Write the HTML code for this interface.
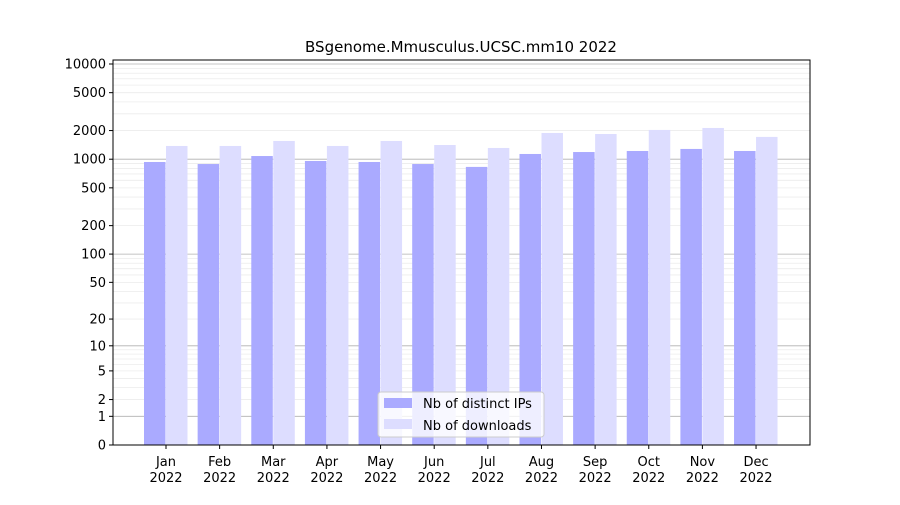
<!DOCTYPE html>
<html><head><meta charset="utf-8"><style>
body{margin:0;background:#fff;}
svg text{font-family:"DejaVu Sans","Liberation Sans",sans-serif;}
</style></head><body>
<svg id="chart" width="900" height="500" xmlns="http://www.w3.org/2000/svg">
<rect width="900" height="500" fill="#fff"/>
<g id="grid"></g><g id="bars"></g><g id="axes"></g>
<text x="461" y="52" text-anchor="middle" font-size="15">BSgenome.Mmusculus.UCSC.mm10 2022</text>
<g>
<rect x="378" y="392" width="166" height="45" rx="3" fill="#fff" fill-opacity="0.8" stroke="#ccc"/>
<rect x="384" y="398" width="28" height="10" fill="#aaaaff"/>
<text x="423" y="408" font-size="13">Nb of distinct IPs</text>
<rect x="384" y="419" width="28" height="10" fill="#ddddff"/>
<text x="423" y="430" font-size="13">Nb of downloads</text>
</g>
</svg>
<script>
const months=["Jan","Feb","Mar","Apr","May","Jun","Jul","Aug","Sep","Oct","Nov","Dec"];
const ips=[935,890,1080,958,935,890,830,1135,1190,1220,1282,1220];
const downloads=[1377,1377,1555,1377,1555,1410,1312,1887,1840,2030,2130,1715];
const yTicks=[0,1,2,5,10,20,50,100,200,500,1000,2000,5000,10000];
const NS="http://www.w3.org/2000/svg";
const L=113,R=810,T=60,B=445;
function y(v){return B-95.25*Math.log10(1+v);}
function xc(i){return 166+i*53.64;}
function mk(tag,attrs,parent,txt){const e=document.createElementNS(NS,tag);for(const k in attrs)e.setAttribute(k,attrs[k]);if(txt!==undefined)e.textContent=txt;document.getElementById(parent).appendChild(e);return e;}
// grid
for(let d=1;d<=10000;d*=10){for(let m=1;m<10;m++){const v=d*m;if(v>11000)break;const yy=y(v);
const g=mk('line',{x1:L,x2:R,y1:yy,y2:yy,stroke:m===1?'#b0b0b0':'#ececec','stroke-width':m===1?0.8:0.8},'grid');

}}
// bars
months.forEach((m,i)=>{
const b1=mk('rect',{x:xc(i)-22,y:y(ips[i]),width:21.5,height:B-y(ips[i]),fill:'#aaaaff'},'bars');


const b2=mk('rect',{x:xc(i),y:y(downloads[i]),width:21.5,height:B-y(downloads[i]),fill:'#ddddff'},'bars');


mk('line',{x1:xc(i),x2:xc(i),y1:B,y2:B+4,stroke:'#000'},'axes');
const t=mk('text',{x:xc(i),y:B+21,'text-anchor':'middle','font-size':13},'axes');


const s1=document.createElementNS(NS,'tspan');s1.setAttribute('x',xc(i));s1.textContent=m;t.appendChild(s1);
const s2=document.createElementNS(NS,'tspan');s2.setAttribute('x',xc(i));s2.setAttribute('dy',16);s2.textContent='2022';t.appendChild(s2);
});
yTicks.forEach(v=>{const yy=y(v);
mk('line',{x1:L-4,x2:L,y1:yy,y2:yy,stroke:'#000'},'axes');
const t=mk('text',{x:L-7,y:yy+4.5,'text-anchor':'end','font-size':13},'axes',String(v));

});
const f=mk('rect',{x:L,y:T,width:R-L,height:B-T,fill:'none',stroke:'#000','stroke-width':1},'axes');


</script>
</body></html>
